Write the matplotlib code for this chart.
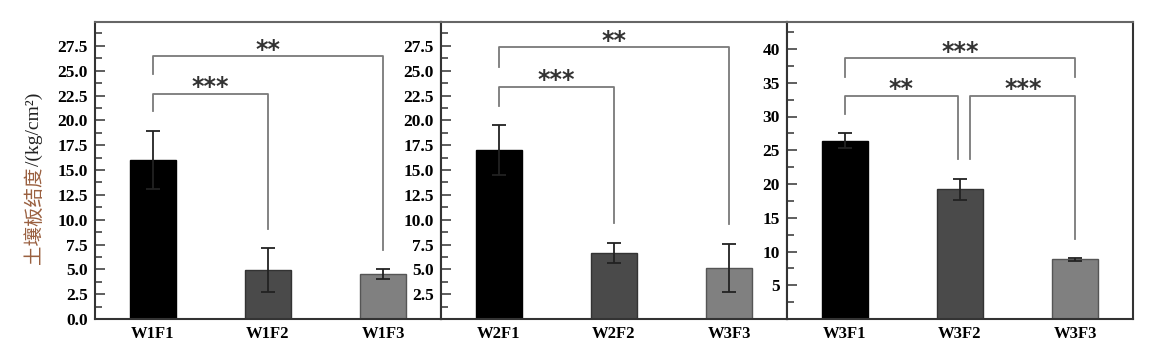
import numpy as np
import matplotlib
matplotlib.use("Agg")
import matplotlib.pyplot as plt
from matplotlib.ticker import MultipleLocator, FormatStrFormatter, FuncFormatter

# data
labels_1 = ["W1F1", "W1F2", "W1F3"]
means_1 = [16.0, 4.95, 4.5]
errs_1 = [2.9, 2.2, 0.5]

labels_2 = ["W2F1", "W2F2", "W3F3"]
means_2 = [17.0, 6.65, 5.15]
errs_2 = [2.55, 1.05, 2.45]

labels_3 = ["W3F1", "W3F2", "W3F3"]
means_3 = [26.4, 19.2, 8.85]
errs_3 = [1.1, 1.6, 0.25]

# brackets: (left x, right x, height, left leg bottom, right leg bottom, stars)
brackets_1 = [(0, 2, 26.5, 24.7, 6.9, "**"), (0, 1, 22.7, 20.9, 9.1, "***")]
brackets_2 = [(0, 2, 27.4, 25.4, 9.6, "**"), (0, 1, 23.4, 21.4, 9.7, "***")]
brackets_3 = [(0, 2, 38.6, 35.8, 35.8, "***"), (0, 0.98, 33.1, 30.3, 23.7, "**"),
              (1.09, 2, 33.1, 23.7, 11.9, "***")]

colors = ["#000000", "#4a4a4a", "#808080"]
edges = ["#000000", "#333333", "#555555"]

plt.rcParams["font.family"] = ["Liberation Serif", "DejaVu Sans"]

fig = plt.figure(figsize=(11.51, 3.53), dpi=100)
W, H = 1151, 353
bottom = 1 - 319 / H
height = (319 - 22) / H
lefts = [95, 441, 787]
width = 346

panels = [
    (labels_1, means_1, errs_1, brackets_1, 29.9, 2.5, 1.25, "p1"),
    (labels_2, means_2, errs_2, brackets_2, 29.9, 2.5, 1.25, "p2"),
    (labels_3, means_3, errs_3, brackets_3, 44, 5, 2.5, "p3"),
]

for i, (labs, m, e, brs, ymax, maj, mnr, name) in enumerate(panels):
    ax = fig.add_axes([lefts[i] / W, bottom, width / W, height])
    x = np.arange(len(labs))
    ax.bar(x, m, width=0.4, color=colors, edgecolor=edges, linewidth=1, zorder=2)
    ax.errorbar(x, m, yerr=e, fmt="none", ecolor="#222222", elinewidth=1.3,
                capsize=5, capthick=1.3, zorder=3)
    ax.set_xlim(-0.5, 2.5)
    ax.set_ylim(0, ymax)
    ax.set_xticks(x)
    ax.set_xticklabels(labs, fontsize=12, fontweight="bold")
    ax.tick_params(axis="x", length=0, pad=5)
    ax.yaxis.set_major_locator(MultipleLocator(maj))
    ax.yaxis.set_minor_locator(MultipleLocator(mnr))
    if name == "p1":
        ax.yaxis.set_major_formatter(FormatStrFormatter("%.1f"))
    elif name == "p2":
        ax.yaxis.set_major_formatter(FuncFormatter(lambda v, p: "" if v == 0 else "%.1f" % v))
    else:
        ax.yaxis.set_major_formatter(FuncFormatter(lambda v, p: "" if v == 0 else "%d" % v))
    ax.tick_params(axis="y", which="major", direction="in", length=7.5, width=1.1,
                   pad=5, labelsize=12.5, color="#333333")
    ax.tick_params(axis="y", which="minor", direction="in", length=5, width=1.1,
                   color="#333333")
    for lab in ax.get_yticklabels():
        lab.set_fontweight("bold")
    for s in ax.spines.values():
        s.set_color("#333333")
        s.set_linewidth(1.5)
    ax.spines["top"].set_color("#666666")

    for (xa, xb, yh, ya, yb, stars) in brs:
        ax.plot([xa, xa, xb, xb], [ya, yh, yh, yb], color="#7a7a7a", lw=1.3, zorder=4)
        ax.annotate(stars, xy=((xa + xb) / 2, yh), xytext=(0, 4.5),
                    textcoords="offset points", ha="center", va="center",
                    fontsize=17, fontweight="bold", family="DejaVu Sans",
                    color="#333333")

# y label: Chinese part in brown, unit part in black
t1 = fig.text(34 / W, 1 - 264 / H, "土壤板结度", rotation=90, ha="center", va="bottom",
              fontsize=14, color="#9a6040", family=["Noto Sans CJK SC", "DejaVu Sans"])
fig.canvas.draw()
fig.axes[0].annotate("/(kg/cm²)", xy=(0.5, 1), xycoords=t1,
                     ha="center", va="bottom", rotation=90,
                     fontsize=14, color="#222222", family="Liberation Serif",
                     annotation_clip=False)

fig.savefig("out.png", dpi=100)
